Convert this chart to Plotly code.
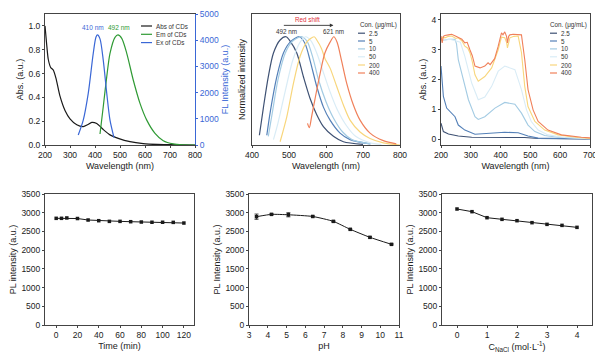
import plotly.graph_objects as go

PAGE_OFF = 8          # default body margin of the page
W, H = 603 - PAGE_OFF, 357 - PAGE_OFF
FONT = "Liberation Sans, Arial, sans-serif"

# ---------------- Panel 1: Abs / Em / Ex of CDs ----------------
abs_wl = [200, 206, 213, 223, 233, 244, 260, 280, 300, 327, 353, 370, 387, 407, 433, 460, 493, 540, 593, 650, 700, 800]
abs_val = [1.0, 0.86, 0.72, 0.65, 0.63, 0.56, 0.41, 0.29, 0.22, 0.17, 0.155, 0.17, 0.19, 0.18, 0.13, 0.085, 0.056, 0.028, 0.012, 0.005, 0.003, 0.0]
ex_wl = [333, 353, 373, 393, 404, 410, 420, 433, 447, 460, 476]
ex_val = [380, 950, 1970, 3500, 4120, 4200, 4050, 3240, 1970, 950, 280]
em_wl = [420, 433, 447, 460, 480, 492, 507, 527, 553, 580, 607, 640, 673, 713, 750, 800]
em_val = [420, 1460, 2610, 3500, 4110, 4200, 4070, 3500, 2480, 1590, 950, 445, 165, 40, 5, 0]

# ---------------- Panel 2: normalized PL vs concentration ----------------
pl_wl_2p5 = [420, 431, 444, 458, 476, 492, 503, 521, 539, 557, 575, 593, 620, 647, 700]
pl_int_2p5 = [0.09, 0.35, 0.63, 0.85, 0.97, 1.0, 0.96, 0.85, 0.63, 0.43, 0.28, 0.17, 0.08, 0.03, 0.005]
pl_wl_5 = [440, 450, 467, 485, 503, 528, 543, 557, 575, 593, 611, 638, 665, 720]
pl_int_5 = [0.09, 0.32, 0.63, 0.85, 0.95, 1.0, 0.94, 0.78, 0.54, 0.35, 0.23, 0.11, 0.05, 0.01]
pl_wl_10 = [444, 455, 470, 490, 510, 535, 550, 565, 580, 600, 620, 645, 670, 720]
pl_int_10 = [0.08, 0.30, 0.60, 0.85, 0.96, 1.0, 0.95, 0.80, 0.60, 0.40, 0.25, 0.12, 0.05, 0.01]
pl_wl_50 = [458, 470, 490, 510, 530, 545, 560, 575, 590, 610, 630, 655, 680, 720, 750]
pl_int_50 = [0.05, 0.20, 0.50, 0.78, 0.95, 1.0, 0.96, 0.85, 0.70, 0.50, 0.33, 0.18, 0.08, 0.02, 0.005]
pl_wl_200 = [476, 494, 512, 530, 548, 568, 575, 588, 597, 611, 629, 647, 665, 692, 719, 755, 800]
pl_int_200 = [0.03, 0.26, 0.57, 0.82, 0.95, 1.0, 0.97, 0.89, 0.80, 0.71, 0.54, 0.37, 0.23, 0.12, 0.06, 0.02, 0.0]
pl_wl_400 = [550, 555, 561, 570, 584, 597, 611, 621, 630, 642, 656, 674, 692, 719, 755, 790]
pl_int_400 = [0.20, 0.16, 0.26, 0.42, 0.66, 0.85, 0.95, 1.0, 0.95, 0.78, 0.57, 0.37, 0.23, 0.11, 0.04, 0.01]

# ---------------- Panel 3: absorbance vs concentration ----------------
ab_wl_2p5 = [200, 208, 225, 258, 303, 360, 414, 450, 481, 526, 600, 700]
ab_val_2p5 = [0.53, 0.25, 0.17, 0.10, 0.06, 0.06, 0.07, 0.07, 0.05, 0.02, 0.01, 0.0]
ab_wl_5 = [200, 208, 219, 236, 247, 258, 280, 314, 358, 414, 459, 492, 526, 600, 700]
ab_val_5 = [2.45, 1.43, 1.04, 0.87, 0.75, 0.47, 0.30, 0.16, 0.19, 0.23, 0.21, 0.10, 0.03, 0.01, 0.0]
ab_wl_10 = [200, 225, 247, 252, 258, 275, 292, 314, 325, 347, 381, 414, 448, 470, 492, 515, 548, 593, 700]
ab_val_10 = [3.3, 3.35, 3.35, 3.2, 2.67, 1.99, 1.32, 0.75, 0.66, 0.75, 1.04, 1.23, 1.17, 0.87, 0.47, 0.25, 0.12, 0.06, 0.01]
ab_wl_50 = [200, 230, 265, 280, 303, 325, 347, 370, 392, 414, 448, 470, 487, 503, 526, 559, 615, 700]
ab_val_50 = [3.3, 3.35, 3.25, 2.78, 1.88, 1.32, 1.41, 1.77, 2.28, 2.45, 2.33, 1.66, 0.98, 0.59, 0.30, 0.14, 0.05, 0.01]
ab_wl_200 = [200, 206, 213, 225, 236, 250, 258, 270, 280, 290, 297, 305, 314, 325, 347, 370, 392, 403, 414, 420, 423, 427, 431, 445, 459, 470, 481, 492, 515, 548, 593, 660, 700]
ab_val_200 = [3.3, 3.42, 3.4, 3.45, 3.46, 3.38, 3.4, 3.3, 3.12, 3.05, 2.9, 2.6, 2.16, 1.94, 2.1, 2.39, 3.0, 3.42, 3.4, 3.25, 3.06, 3.3, 3.4, 3.45, 3.46, 2.9, 1.77, 1.09, 0.59, 0.30, 0.14, 0.05, 0.02]
ab_wl_400 = [200, 204, 208, 213, 225, 236, 250, 258, 270, 280, 288, 297, 305, 314, 331, 347, 358, 365, 370, 380, 392, 403, 408, 414, 420, 423, 427, 431, 442, 459, 470, 481, 492, 509, 526, 559, 604, 671, 700]
ab_val_400 = [3.46, 3.23, 3.45, 3.48, 3.5, 3.52, 3.45, 3.42, 3.35, 3.23, 3.25, 3.0, 2.8, 2.45, 2.39, 2.45, 2.56, 2.5, 2.58, 2.7, 3.12, 3.57, 3.5, 3.6, 3.45, 3.23, 3.45, 3.5, 3.52, 3.5, 3.5, 2.67, 1.66, 0.98, 0.59, 0.30, 0.14, 0.06, 0.04]

# ---------------- Bottom panels ----------------
time_min = [0, 5, 10, 20, 30, 40, 50, 60, 70, 80, 90, 100, 110, 120]
time_pl = [2850, 2850, 2860, 2845, 2805, 2787, 2769, 2769, 2760, 2751, 2745, 2745, 2742, 2724]
ph_val = [3.4, 4.2, 5.1, 6.4, 7.5, 8.4, 9.45, 10.6]
ph_pl = [2894, 2956, 2945, 2900, 2769, 2556, 2342, 2155]
ph_err = [70, 15, 55, 15, 15, 15, 20, 15]
nacl_c = [0, 0.5, 1, 1.5, 2, 2.5, 3, 3.5, 4]
nacl_pl = [3099, 3028, 2867, 2823, 2787, 2734, 2689, 2662, 2609]

conc_labels = ["2.5", "5", "10", "50", "200", "400"]
conc_colors = ["#3e5173", "#5480b8", "#a3cbe3", "#d9ecf6", "#f8d67c", "#f0805a"]

BLACK = "#1a1a1a"
BLUE = "#3a67d6"
GREEN = "#2f9a34"
RED = "#e0303a"
FRAME = "#444444"


def px(x):
    # page pixel x -> paper fraction
    return (x - PAGE_OFF) / W


def py(y):
    # page pixel y -> paper fraction
    return 1 - (y - PAGE_OFF) / H


fig = go.Figure()

# Panel 1
fig.add_trace(go.Scatter(x=abs_wl, y=abs_val, mode="lines", line=dict(color=BLACK, width=1.2, shape="spline", smoothing=0.6),
                         xaxis="x", yaxis="y", showlegend=False, name="Abs of CDs"))
fig.add_trace(go.Scatter(x=em_wl, y=em_val, mode="lines", line=dict(color=GREEN, width=1.2, shape="spline", smoothing=0.8),
                         xaxis="x", yaxis="y7", showlegend=False, name="Em of CDs"))
fig.add_trace(go.Scatter(x=ex_wl, y=ex_val, mode="lines", line=dict(color=BLUE, width=1.2, shape="spline", smoothing=0.8),
                         xaxis="x", yaxis="y7", showlegend=False, name="Ex of CDs"))

# Panel 2
pl_sets = [(pl_wl_2p5, pl_int_2p5), (pl_wl_5, pl_int_5), (pl_wl_10, pl_int_10),
           (pl_wl_50, pl_int_50), (pl_wl_200, pl_int_200), (pl_wl_400, pl_int_400)]
for (xs, ys), lab, col in zip(pl_sets, conc_labels, conc_colors):
    fig.add_trace(go.Scatter(x=xs, y=ys, mode="lines", line=dict(color=col, width=1.2, shape="spline", smoothing=0.8),
                             xaxis="x2", yaxis="y2", showlegend=False, name=lab))

# Panel 3
ab_sets = [(ab_wl_2p5, ab_val_2p5), (ab_wl_5, ab_val_5), (ab_wl_10, ab_val_10),
           (ab_wl_50, ab_val_50), (ab_wl_200, ab_val_200), (ab_wl_400, ab_val_400)]
for (xs, ys), lab, col in zip(ab_sets, conc_labels, conc_colors):
    fig.add_trace(go.Scatter(x=xs, y=ys, mode="lines", line=dict(color=col, width=1.1),
                             xaxis="x3", yaxis="y3", showlegend=False, name=lab))

# Bottom panels
mk = dict(symbol="square", size=3.5, color=BLACK)
fig.add_trace(go.Scatter(x=time_min, y=time_pl, mode="lines+markers", line=dict(color=BLACK, width=1), marker=mk,
                         xaxis="x4", yaxis="y4", showlegend=False))
fig.add_trace(go.Scatter(x=ph_val, y=ph_pl, mode="lines+markers", line=dict(color=BLACK, width=1, shape="spline", smoothing=0.5),
                         marker=mk, error_y=dict(type="data", array=ph_err, color=BLACK, thickness=0.8, width=2),
                         xaxis="x5", yaxis="y5", showlegend=False))
fig.add_trace(go.Scatter(x=nacl_c, y=nacl_pl, mode="lines+markers", line=dict(color=BLACK, width=1), marker=mk,
                         xaxis="x6", yaxis="y6", showlegend=False))

tickf = dict(family=FONT, size=8.5, color="#222")
titlef = dict(family=FONT, size=9, color="#222")


def xax(domain, rng, dtick, title, anchor, tick0=None):
    d = dict(domain=domain, range=rng, dtick=dtick, anchor=anchor, showline=True, linecolor=FRAME, linewidth=1,
             mirror=True, ticks="outside", ticklen=2, tickwidth=1, tickcolor=FRAME, showgrid=False, zeroline=False,
             tickfont=tickf, automargin=False, ticklabeloverflow="allow",
             title=dict(text=title, font=titlef, standoff=3))
    if tick0 is not None:
        d["tick0"] = tick0
    return d


def yax(domain, rng, dtick, title, anchor, showlabels=True, mirror=True, fmt=None):
    d = dict(domain=domain, range=rng, dtick=dtick, anchor=anchor, showline=True, linecolor=FRAME, linewidth=1,
             mirror=mirror, ticks="outside" if showlabels else "", ticklen=2, tickwidth=1, tickcolor=FRAME,
             showgrid=False, zeroline=False, showticklabels=showlabels, tickfont=tickf, automargin=False,
             ticklabeloverflow="allow", title=dict(text=title, font=titlef, standoff=3))
    if fmt:
        d["tickformat"] = fmt
    return d


top = [py(145), py(14)]
bot = [py(325), py(194)]

layout = dict(
    width=W, height=H, margin=dict(l=0, r=0, t=0, b=0), paper_bgcolor="white", plot_bgcolor="white",
    font=dict(family=FONT, color="#222"),
    xaxis=xax([px(45), px(195)], [200, 800], 100, "Wavelength (nm)", "y"),
    yaxis=yax(top, [0, 1.1], 0.2, "Abs. (a.u.)", "x", mirror=False, fmt=".1f"),
    yaxis7=dict(domain=top, range=[0, 5000], dtick=1000, overlaying="y", side="right", anchor="x",
                showline=True, linecolor=BLUE, linewidth=1.2, ticks="outside", ticklen=2, tickcolor=BLUE,
                showgrid=False, zeroline=False, tickfont=dict(family=FONT, size=8.5, color=BLUE), automargin=False,
                ticklabeloverflow="allow",
                title=dict(text="FL Intensity (a.u.)", font=dict(family=FONT, size=9, color=BLUE), standoff=3)),
    xaxis2=xax([px(252), px(400)], [400, 800], 100, "Wavelength (nm)", "y2"),
    yaxis2=yax(top, [0, 1.21], 0.2, "Normalized intensity", "x2", showlabels=False),
    xaxis3=xax([px(441), px(590)], [200, 700], 100, "Wavelength (nm)", "y3"),
    yaxis3=yax(top, [-0.2, 4.2], 1, "Abs. (a.u.)", "x3"),
    xaxis4=xax([px(45), px(194)], [-10.5, 129.5], 20, "Time (min)", "y4", tick0=0),
    yaxis4=yax(bot, [0, 3500], 500, "PL intensity (a.u.)", "x4"),
    xaxis5=xax([px(249), px(399)], [3, 11], 1, "pH", "y5"),
    yaxis5=yax(bot, [0, 3500], 500, "PL Intensity (a.u.)", "x5"),
    xaxis6=xax([px(442), px(592)], [-0.5, 4.5], 1, "C<sub>NaCl</sub> (mol·L<sup>-1</sup>)", "y6", tick0=0),
    yaxis6=yax(bot, [0, 3500], 500, "PL Intensity (a.u.)", "x6"),
)
fig.update_layout(**layout)

# Annotations and manual legends
ann = []
shapes = []
lf = dict(family=FONT, size=6.3, color="#333")

# panel 1 peak labels
ann.append(dict(x=390, y=4500, xref="x", yref="y7", text="410 nm", showarrow=False,
                font=dict(family=FONT, size=6.5, color=BLUE)))
ann.append(dict(x=494, y=4500, xref="x", yref="y7", text="492 nm", showarrow=False,
                font=dict(family=FONT, size=6.5, color=GREEN)))

# panel 1 legend
for label, col, yy in [("Abs of CDs", BLACK, 26), ("Em of CDs", GREEN, 34.3), ("Ex of CDs", BLUE, 42.6)]:
    shapes.append(dict(type="line", xref="paper", yref="paper", x0=px(141), x1=px(152), y0=py(yy), y1=py(yy),
                       line=dict(color=col, width=1.2)))
    ann.append(dict(x=px(154), y=py(yy), xref="paper", yref="paper", text=label, showarrow=False,
                    xanchor="left", yanchor="middle", font=lf))

# panel 2 red shift arrow and labels
ann.append(dict(x=620, y=1.105, ax=482, ay=1.105, xref="x2", yref="y2", axref="x2", ayref="y2", text="",
                showarrow=True, arrowhead=2, arrowsize=0.8, arrowwidth=0.9, arrowcolor="#333"))
ann.append(dict(x=551, y=1.155, xref="x2", yref="y2", text="Red shift", showarrow=False,
                font=dict(family=FONT, size=6.3, color=RED)))
ann.append(dict(x=492, y=1.045, xref="x2", yref="y2", text="492 nm", showarrow=False, font=lf))
ann.append(dict(x=621, y=1.045, xref="x2", yref="y2", text="621 nm", showarrow=False, font=lf))

# concentration legends (panels 2 and 3)
leg_y = [33.2, 41.0, 48.9, 56.8, 65.0, 73.0]
for x_line0, x_title in [(358, 358), (550, 548)]:
    ann.append(dict(x=px(x_title), y=py(24.7), xref="paper", yref="paper", text="Con. (μg/mL)", showarrow=False,
                    xanchor="left", yanchor="middle", font=lf))
    for lab, col, yy in zip(conc_labels, conc_colors, leg_y):
        shapes.append(dict(type="line", xref="paper", yref="paper", x0=px(x_line0), x1=px(x_line0 + 7),
                           y0=py(yy), y1=py(yy), line=dict(color=col, width=1.2)))
        ann.append(dict(x=px(x_line0 + 9), y=py(yy), xref="paper", yref="paper", text=lab, showarrow=False,
                        xanchor="left", yanchor="middle", font=lf))

fig.update_layout(annotations=ann, shapes=shapes)
fig.write_html("out.html")
